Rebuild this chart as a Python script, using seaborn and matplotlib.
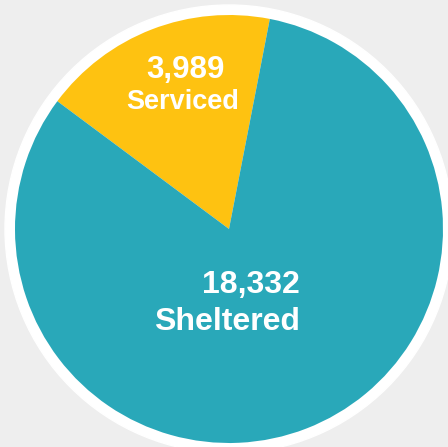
import matplotlib
matplotlib.use("Agg")
import matplotlib.pyplot as plt
import seaborn as sns

# data
labels = ["Serviced", "Sheltered"]
values = [3989, 18332]
colors = ["#FEC211", "#29A8B9"]

W, H = 448, 447
BG = "#EEEEEE"

sns.set_style("white")
plt.rcParams["font.family"] = ["Liberation Sans", "DejaVu Sans"]

fig = plt.figure(figsize=(W / 100, H / 100), dpi=100, facecolor=BG)
ax = fig.add_axes([0, 0, 1, 1])
ax.set_facecolor(BG)

cx, cy = 229, H - 229

# white ring behind the pie
ax.add_patch(plt.Circle((cx, cy), 224, color="white", zorder=0))

ax.pie(values, colors=sns.color_palette(colors), startangle=79,
       counterclock=True, center=(cx, cy), radius=214,
       wedgeprops=dict(linewidth=0), frame=True)
ax.set_xlim(0, W)
ax.set_ylim(0, H)
ax.set_aspect("equal")
ax.axis("off")

# labels
ax.text(185, H - 78, f"{values[0]:,}", color="white", fontsize=22.5,
        fontweight="bold", ha="center", va="baseline")
ax.text(183, H - 109, labels[0], color="white", fontsize=19.5,
        fontweight="bold", ha="center", va="baseline")
ax.text(300, H - 293, f"{values[1]:,}", color="white", fontsize=23,
        fontweight="bold", ha="right", va="baseline")
ax.text(300, H - 330, labels[1], color="white", fontsize=23,
        fontweight="bold", ha="right", va="baseline")

fig.savefig("out.png", dpi=100, facecolor=BG)
